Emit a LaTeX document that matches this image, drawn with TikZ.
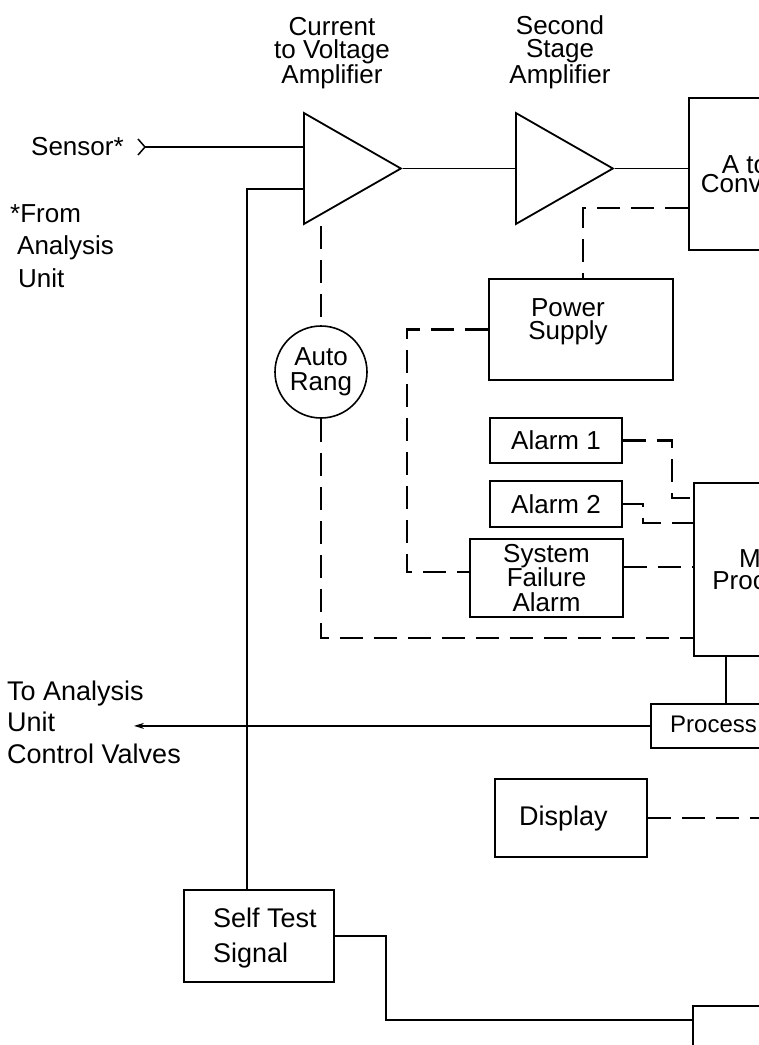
\documentclass[tikz,border=0pt]{standalone}
\usepackage{fontspec}
\setmainfont{Liberation Sans}
\usetikzlibrary{shapes.geometric,arrows.meta}
\begin{document}
\begin{tikzpicture}[x=1pt,y=-1pt,
  box/.style={draw, line width=1.8pt, inner sep=0pt, rectangle},
  lbl/.style={inner sep=0pt, align=center, font=\fontsize{26}{24}\selectfont},
  wire/.style={line width=1.5pt},
  dsh/.style={line width=2.7pt, dash pattern=on 23pt off 11pt},
  amp/.style={draw, line width=1.8pt, isosceles triangle, isosceles triangle stretches,
    inner sep=0pt, minimum width=111pt, minimum height=97pt, anchor=west}]
\useasboundingbox (0,0) rectangle (759,1045);
\clip (0,0) rectangle (759,1045);

% amplifiers
\node[amp] (amp1) at (303,168.5) {};
\node[amp] (amp2) at (515,168.5) {};

% boxes
\node[box, anchor=north west, minimum width=138pt, minimum height=152pt, lbl,
  font=\fontsize{26}{19}\selectfont] (adc) at (688,97) {A to D\\Converter};
\node[box, anchor=north west, minimum width=184pt, minimum height=101pt] (ps) at (488,278) {};
\node[lbl, anchor=north, font=\fontsize{26}{23}\selectfont] (pstext) at (568,298.3) {Power\\Supply};
\node[draw, circle, line width=1.6pt, minimum size=92pt, inner sep=0pt, lbl,
  font=\fontsize{26}{25}\selectfont] (ar) at (321,372) {Auto\\Rang};
\node[box, minimum width=132pt, minimum height=45pt, lbl] (al1) at (556,440.5) {Alarm 1};
\node[box, minimum width=132pt, minimum height=46pt, lbl] (al2) at (556,504) {Alarm 2};
\node[box, minimum width=153pt, minimum height=78pt, lbl,
  font=\fontsize{26}{24.5}\selectfont] (sfa) at (546.5,578) {System\\Failure\\Alarm};
\node[box, anchor=north west, minimum width=154pt, minimum height=173pt, lbl,
  font=\fontsize{26}{22}\selectfont] (mp) at (693,482) {Micro\\Processor};
\node[box, anchor=north west, minimum width=180pt, minimum height=44pt] (proc) at (650,703) {};
\node[lbl, anchor=base west, font=\fontsize{24}{24}\selectfont] (proctext) at (670,732) {Process};
\node[box, anchor=north west, minimum width=152pt, minimum height=78pt] (disp) at (494,778) {};
\node[lbl, anchor=base west, font=\fontsize{27}{27}\selectfont] (disptext) at (519,825) {Display};
\node[box, anchor=north west, minimum width=150pt, minimum height=92pt] (st) at (183,889) {};
\node[lbl, anchor=north west, align=left, font=\fontsize{27}{35}\selectfont] (sttext) at (213,907.6) {Self Test\\Signal};
\node[box, anchor=north west, minimum width=160pt, minimum height=100pt] (bb) at (692,1005) {};

% free labels
\node[lbl, anchor=north, font=\fontsize{26}{23}\selectfont] (cvatext) at (332,17.3) {Current\\to Voltage\\Amplifier};
\node[lbl, anchor=north, font=\fontsize{26}{23.5}\selectfont] (ssatext) at (560,15.3) {Second\\Stage\\Amplifier};
\node[lbl, anchor=base west] (sensor) at (31,155) {Sensor*};
\node[lbl, anchor=north west, align=left, font=\fontsize{26}{32.5}\selectfont] (from) at (10,204.3)
  {*From\\\hspace*{7pt}Analysis\\\hspace*{8pt}Unit};
\node[lbl, anchor=north west, align=left, font=\fontsize{27}{31.5}\selectfont] (toau) at (7,680.6)
  {To Analysis\\Unit\\Control Valves};

% solid connectors
\coordinate (sens) at (145,147);
\draw[wire] (138,139) -- (sens) -- (138,155);
\draw[wire] (sens) -- (sens -| amp1.west);
\coordinate (stx) at (247,189);
\draw[wire] (amp1.west |- stx) -- (stx) -- (stx |- st.north);
\draw[wire] (amp1.apex) -- (amp1.apex -| amp2.west);
\draw[wire] (amp2.apex) -- (amp2.apex -| adc.west);
\coordinate (mpx) at (726,0);
\draw[wire] (mpx |- mp.south) -- (mpx |- proc.north);
\coordinate (arrx) at (134,0);
\draw[wire, -{Stealth[length=10pt,width=6pt]}] (proc.west) -- (proc.west -| arrx);
\coordinate (stc) at (386,1020);
\draw[wire] (st.east) -| (stc) -- (stc -| bb.west);

% dashed connectors
\coordinate (a1b) at (321,226);
\draw[dsh] (a1b) -- (a1b |- ar.north);
\coordinate (arb) at (321,638);
\draw[dsh] (ar.south) -- (arb) -- (arb -| mp.west);
\coordinate (psx) at (583,208);
\draw[dsh] (psx -| adc.west) -- (psx) -- (psx |- ps.north);
\coordinate (lx) at (407,572);
\draw[dsh] (ps.west) -| (lx) -- (lx -| sfa.west);
\coordinate (a1c) at (672,498);
\draw[dsh] (al1.east) -| (a1c) -- (a1c -| mp.west);
\coordinate (a2c) at (643,523);
\draw[dsh] (al2.east) -| (a2c) -- (a2c -| mp.west);
\coordinate (sfy) at (0,567);
\draw[dsh] (sfy -| sfa.east) -- (sfy -| mp.west);
\coordinate (dx) at (780,0);
\draw[dsh] (disp.east) -- (disp.east -| dx);
\end{tikzpicture}
\end{document}
